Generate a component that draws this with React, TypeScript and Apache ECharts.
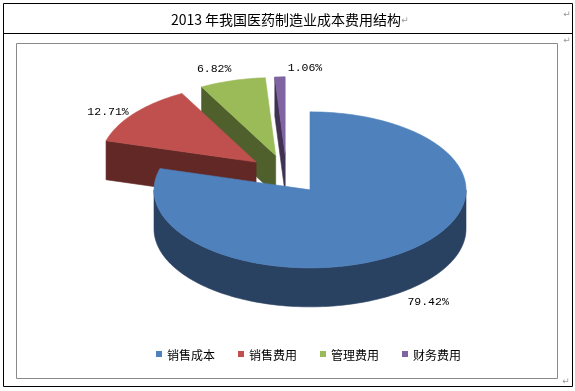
import React, { useEffect, useRef } from "react";
import * as echarts from "echarts";

const titleText = "2013 年我国医药制造业成本费用结构";
const categories = ["销售成本", "销售费用", "管理费用", "财务费用"];
const values = [79.42, 12.71, 6.82, 1.06];
const valueLabels = ["79.42%", "12.71%", "6.82%", "1.06%"];

const topColors = ["#4F81BD", "#C0504D", "#9BBB59", "#8064A2"];
const sideColors = ["#2A4262", "#622826", "#4F602D", "#403152"];
const labelNudge = [[6, -2], [-3, 8], [-10, 2], [26, 6]];

const CX = 286.5;
const CY = 174.3;
const RX = 156;
const RY = 78;
const DEPTH = 39;
const EXPLODE = 39;
const LABEL_OUT = 30;

const total = values.reduce((a, b) => a + b, 0);
const starts: number[] = [];
{
  let c = 0;
  for (const v of values) {
    starts.push(c);
    c += v;
  }
}

const rad = (d: number) => (d * Math.PI) / 180;

function apexOf(i: number, v: number) {
  const a0 = (starts[i] / total) * 360;
  const a1 = a0 + (v / total) * 360;
  const mid = rad((a0 + a1) / 2);
  return {
    a0,
    a1,
    mid,
    ax: CX + EXPLODE * Math.sin(mid),
    ay: CY - EXPLODE * (RY / RX) * Math.cos(mid),
  };
}

function arcPts(ax: number, ay: number, from: number, to: number, dy: number) {
  const pts: number[][] = [];
  const n = Math.max(2, Math.ceil((to - from) / 1.5));
  for (let k = 0; k <= n; k++) {
    const d = rad(from + ((to - from) * k) / n);
    pts.push([ax + RX * Math.sin(d), ay - RY * Math.cos(d) + dy]);
  }
  return pts;
}

function makeRender(i: number) {
  return (_params: any, api: any) => {
    const v = api.value(0);
    const { a0, a1, mid, ax, ay } = apexOf(i, v);
    const top = topColors[i];
    const side = sideColors[i];
    const children: any[] = [];
    const sty = (c: string) => ({ fill: c, stroke: c, lineWidth: 0.6 });
    const face = (deg: number) => {
      const r = rad(deg);
      const ex = ax + RX * Math.sin(r);
      const ey = ay - RY * Math.cos(r);
      children.push({
        type: "polygon",
        shape: { points: [[ax, ay], [ex, ey], [ex, ey + DEPTH], [ax, ay + DEPTH]] },
        style: sty(side),
      });
    };
    if (Math.sin(rad(a0)) < -1e-6) face(a0);
    if (Math.sin(rad(a1)) > 1e-6) face(a1);
    const lo = Math.max(a0, 90);
    const hi = Math.min(a1, 270);
    if (hi > lo) {
      const t = arcPts(ax, ay, lo, hi, 0);
      const b = arcPts(ax, ay, lo, hi, DEPTH).reverse();
      children.push({ type: "polygon", shape: { points: t.concat(b) }, style: sty(side) });
    }
    children.push({
      type: "polygon",
      shape: { points: [[ax, ay]].concat(arcPts(ax, ay, a0, a1, 0)) },
      style: sty(top),
    });
    const front = Math.cos(mid) < 0 ? DEPTH : 0;
    children.push({
      type: "text",
      x: ax + (RX + LABEL_OUT) * Math.sin(mid) + labelNudge[i][0],
      y: ay - (RY + LABEL_OUT / 2) * Math.cos(mid) + front + labelNudge[i][1],
      style: {
        text: valueLabels[i],
        fill: "#000",
        fontSize: 11.5,
        fontFamily: "Liberation Mono",
        align: "center",
        verticalAlign: "middle",
      },
    });
    return { type: "group", children };
  };
}

export default function App() {
  const ref = useRef<HTMLDivElement>(null);
  useEffect(() => {
    if (!ref.current) return;
    const chart = echarts.init(ref.current, null, { renderer: "svg" });
    const apexY = values.map((v, i) => apexOf(i, v).ay);
    const order = apexY.map((y, i) => [y, i]).sort((a, b) => a[0] - b[0]).map((p) => p[1]);
    const series = categories.map((name, i) => ({
      type: "custom",
      name,
      coordinateSystem: "none",
      z: 2 + order.indexOf(i),
      itemStyle: { color: topColors[i] },
      data: [[values[i]]],
      renderItem: makeRender(i),
    }));
    const mark = (x: number, y: number) => ({
      type: "text",
      x,
      y,
      style: { text: "↵", fill: "#999", fontSize: 9, fontFamily: "DejaVu Sans", align: "center", verticalAlign: "middle" },
    });
    chart.setOption({
      animation: false,
      color: topColors,
      legend: {
        data: categories,
        left: 156,
        top: 348,
        icon: "rect",
        itemWidth: 6,
        itemHeight: 6,
        itemGap: 23,
        padding: 0,
        selectedMode: false,
        textStyle: { fontSize: 12, color: "#000", fontFamily: "Noto Sans CJK SC" },
      },
      graphic: [
        { type: "rect", shape: { x: 3.5, y: 3.5, width: 569, height: 383 }, style: { fill: "none", stroke: "#000", lineWidth: 1 } },
        { type: "line", shape: { x1: 3.5, y1: 33.5, x2: 572.5, y2: 33.5 }, style: { stroke: "#000", lineWidth: 1 } },
        { type: "rect", shape: { x: 16.5, y: 43.5, width: 541, height: 335 }, style: { fill: "none", stroke: "#8a8a8a", lineWidth: 1 } },
        {
          type: "text",
          x: 286,
          y: 19,
          style: { text: titleText, fill: "#000", fontSize: 14, fontFamily: "Noto Sans CJK SC", align: "center", verticalAlign: "middle" },
        },
        mark(405, 20),
        mark(566, 381),
        mark(567, 14),
        mark(567, 40),
      ],
      series,
    });
    return () => chart.dispose();
  }, []);
  return <div ref={ref} style={{ position: "fixed", left: 0, top: 0, width: 575, height: 391 }} />;
}
